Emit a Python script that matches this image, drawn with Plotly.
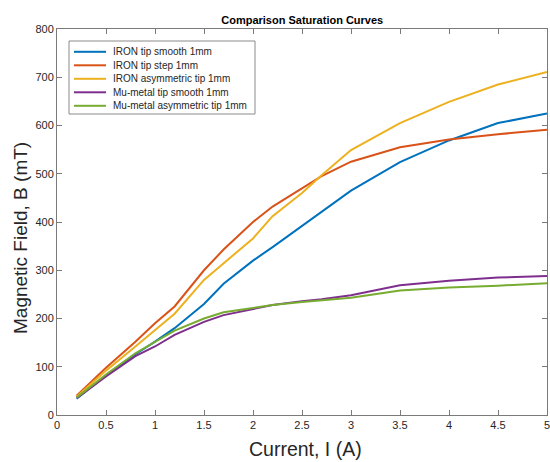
import plotly.graph_objects as go

current = [0.2, 0.5, 0.8, 1.0, 1.2, 1.5, 1.7, 2.0, 2.2, 2.5, 2.7, 3.0, 3.5, 4.0, 4.5, 5.0]
iron_smooth = [34, 82, 126, 152, 180, 230, 272, 320, 348, 392, 422, 465, 524, 569, 605, 625]
iron_step = [40, 98, 152, 190, 225, 300, 343, 400, 432, 470, 495, 525, 555, 571, 582, 591]
iron_asym = [38, 92, 142, 176, 210, 280, 315, 366, 412, 460, 497, 549, 605, 649, 685, 711]
mu_smooth = [35, 80, 122, 142, 166, 193, 207, 219, 228, 236, 240, 248, 269, 278, 285, 288]
mu_asym = [36, 84, 128, 152, 175, 200, 213, 222, 228, 234, 238, 243, 258, 264, 268, 273]

names = ["IRON tip smooth 1mm", "IRON tip step 1mm", "IRON asymmetric tip 1mm",
         "Mu-metal tip smooth 1mm", "Mu-metal asymmetric tip 1mm"]
colors = ["#0072BD", "#D95319", "#EDB120", "#7E2F8E", "#77AC30"]
series = [iron_smooth, iron_step, iron_asym, mu_smooth, mu_asym]

x_ticks = [0, 0.5, 1, 1.5, 2, 2.5, 3, 3.5, 4, 4.5, 5]
y_ticks = [0, 100, 200, 300, 400, 500, 600, 700, 800]

x_title = "Current, I (A)"
y_title = "Magnetic Field, B (mT)"
chart_title = "Comparison Saturation Curves"

W, H = 550, 462
ML, MR, MT, MB = 57, 3, 29, 47
PW, PH = W - ML - MR, H - MT - MB

def px_to_paper(px, py):
    return (px - ML) / PW, (H - MB - py) / PH

FONT = "Liberation Sans, Arial"

fig = go.Figure()
for name, col, ys in zip(names, colors, series):
    fig.add_trace(go.Scatter(x=current, y=ys, mode="lines", name=name,
                             line=dict(color=col, width=2), showlegend=False))

axis_common = dict(showgrid=False, zeroline=False, showline=True, linecolor="#7a7a7a",
                   linewidth=1, mirror="ticks", ticks="inside", ticklen=5,
                   tickcolor="#7a7a7a", automargin=False, ticklabeloverflow="allow",
                   tickfont=dict(family=FONT, size=11, color="#262626"))

shapes = []
annotations = []

# axis titles placed like MATLAB
ax, ay = px_to_paper(305, 449)
annotations.append(dict(text=x_title, xref="paper", yref="paper", x=ax, y=ay,
                        xanchor="center", yanchor="middle", showarrow=False,
                        font=dict(family=FONT, size=19.5, color="#262626")))
yx, yy = px_to_paper(21, 238)
annotations.append(dict(text=y_title, xref="paper", yref="paper", x=yx, y=yy,
                        xanchor="center", yanchor="middle", showarrow=False, textangle=-90,
                        font=dict(family=FONT, size=19, color="#262626")))

# custom compact legend (MATLAB style)
bx0, by0 = px_to_paper(69, 41)
bx1, by1 = px_to_paper(255, 114)
shapes.append(dict(type="rect", xref="paper", yref="paper", x0=bx0, x1=bx1, y0=by0, y1=by1,
                   line=dict(color="#8a8a8a", width=1), fillcolor="white", layer="above"))
for i, (name, col) in enumerate(zip(names, colors)):
    cy = 51.8 + i * 13.5
    lx0, ly = px_to_paper(74, cy)
    lx1, _ = px_to_paper(106, cy)
    tx, _ = px_to_paper(111, cy)
    shapes.append(dict(type="line", xref="paper", yref="paper", x0=lx0, x1=lx1, y0=ly, y1=ly,
                       line=dict(color=col, width=2), layer="above"))
    annotations.append(dict(text=name, xref="paper", yref="paper", x=tx, y=ly,
                            xanchor="left", yanchor="middle", showarrow=False,
                            font=dict(family=FONT, size=10, color="#262626")))

fig.update_layout(
    width=W, height=H,
    margin=dict(l=ML, r=MR, t=MT, b=MB, autoexpand=False),
    paper_bgcolor="white", plot_bgcolor="white",
    title=dict(text="<b>" + chart_title + "</b>", x=(57.5 + 547) / 2 / W, xanchor="center",
               xref="container", yref="container", y=1 - 20 / H, yanchor="middle",
               font=dict(family=FONT, size=11, color="black")),
    xaxis=dict(range=[0, 5], tickvals=x_ticks, ticktext=[str(v) for v in x_ticks],
               **axis_common),
    yaxis=dict(range=[0, 800], tickvals=y_ticks, **axis_common),
    shapes=shapes,
    annotations=annotations,
    showlegend=False,
)

fig.write_html("out.html", config={"displayModeBar": False},
               post_script="document.body.style.margin='0px';document.body.style.overflow='hidden';")
